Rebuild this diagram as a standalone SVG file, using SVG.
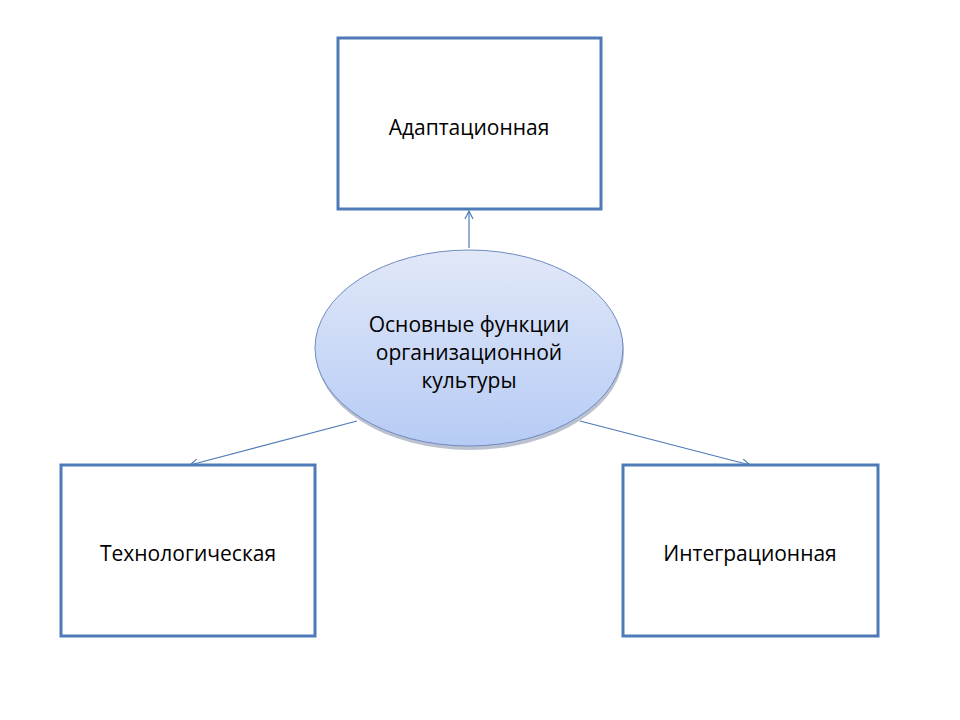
<svg xmlns="http://www.w3.org/2000/svg" width="960" height="720" viewBox="0 0 960 720">
<style>
.box{fill:#fff;stroke:#4f7ab8;stroke-width:3}
.lbl{font-family:"Open Sans","Liberation Sans",sans-serif;font-size:21px;fill:#000;text-anchor:middle}
.conn{stroke:#4f7ab8;stroke-width:1.2;fill:none;marker-end:url(#ah)}
</style>
<defs>
<marker id="ah" markerWidth="12" markerHeight="12" refX="10" refY="6" orient="auto" markerUnits="userSpaceOnUse">
<path d="M2,2 L10,6 L2,10" fill="none" stroke="#4f7ab8" stroke-width="1.2"/>
</marker>
<linearGradient id="g" x1="0" y1="0" x2="0" y2="1">
<stop offset="0" stop-color="#e1e8f8"/>
<stop offset="1" stop-color="#b6cbf5"/>
</linearGradient>
</defs>
<rect width="960" height="720" fill="#fff"/>
<g id="connectors">
<line class="conn" x1="469" y1="248" x2="469" y2="211"/>
<line class="conn" x1="357" y1="421" x2="190" y2="465"/>
<line class="conn" x1="580" y1="421" x2="750" y2="465"/>
</g>
<g id="adapt">
<rect class="box" x="338" y="38" width="263" height="171"/>
<text class="lbl" x="469" y="135">Адаптационная</text>
</g>
<g id="tech">
<rect class="box" x="61" y="465" width="254" height="171"/>
<text class="lbl" x="188" y="561">Технологическая</text>
</g>
<g id="integr">
<rect class="box" x="623" y="465" width="255" height="171"/>
<text class="lbl" x="750" y="561">Интеграционная</text>
</g>
<g id="center">
<ellipse cx="470" cy="352" rx="154" ry="98" fill="#8d98ad" opacity="0.6"/>
<ellipse cx="469" cy="348" rx="154" ry="98" fill="url(#g)" stroke="#6e8bc0" stroke-width="1"/>
<text class="lbl" x="469" y="332">Основные функции</text>
<text class="lbl" x="469" y="360">организационной</text>
<text class="lbl" x="469" y="388">культуры</text>
</g>
</svg>
